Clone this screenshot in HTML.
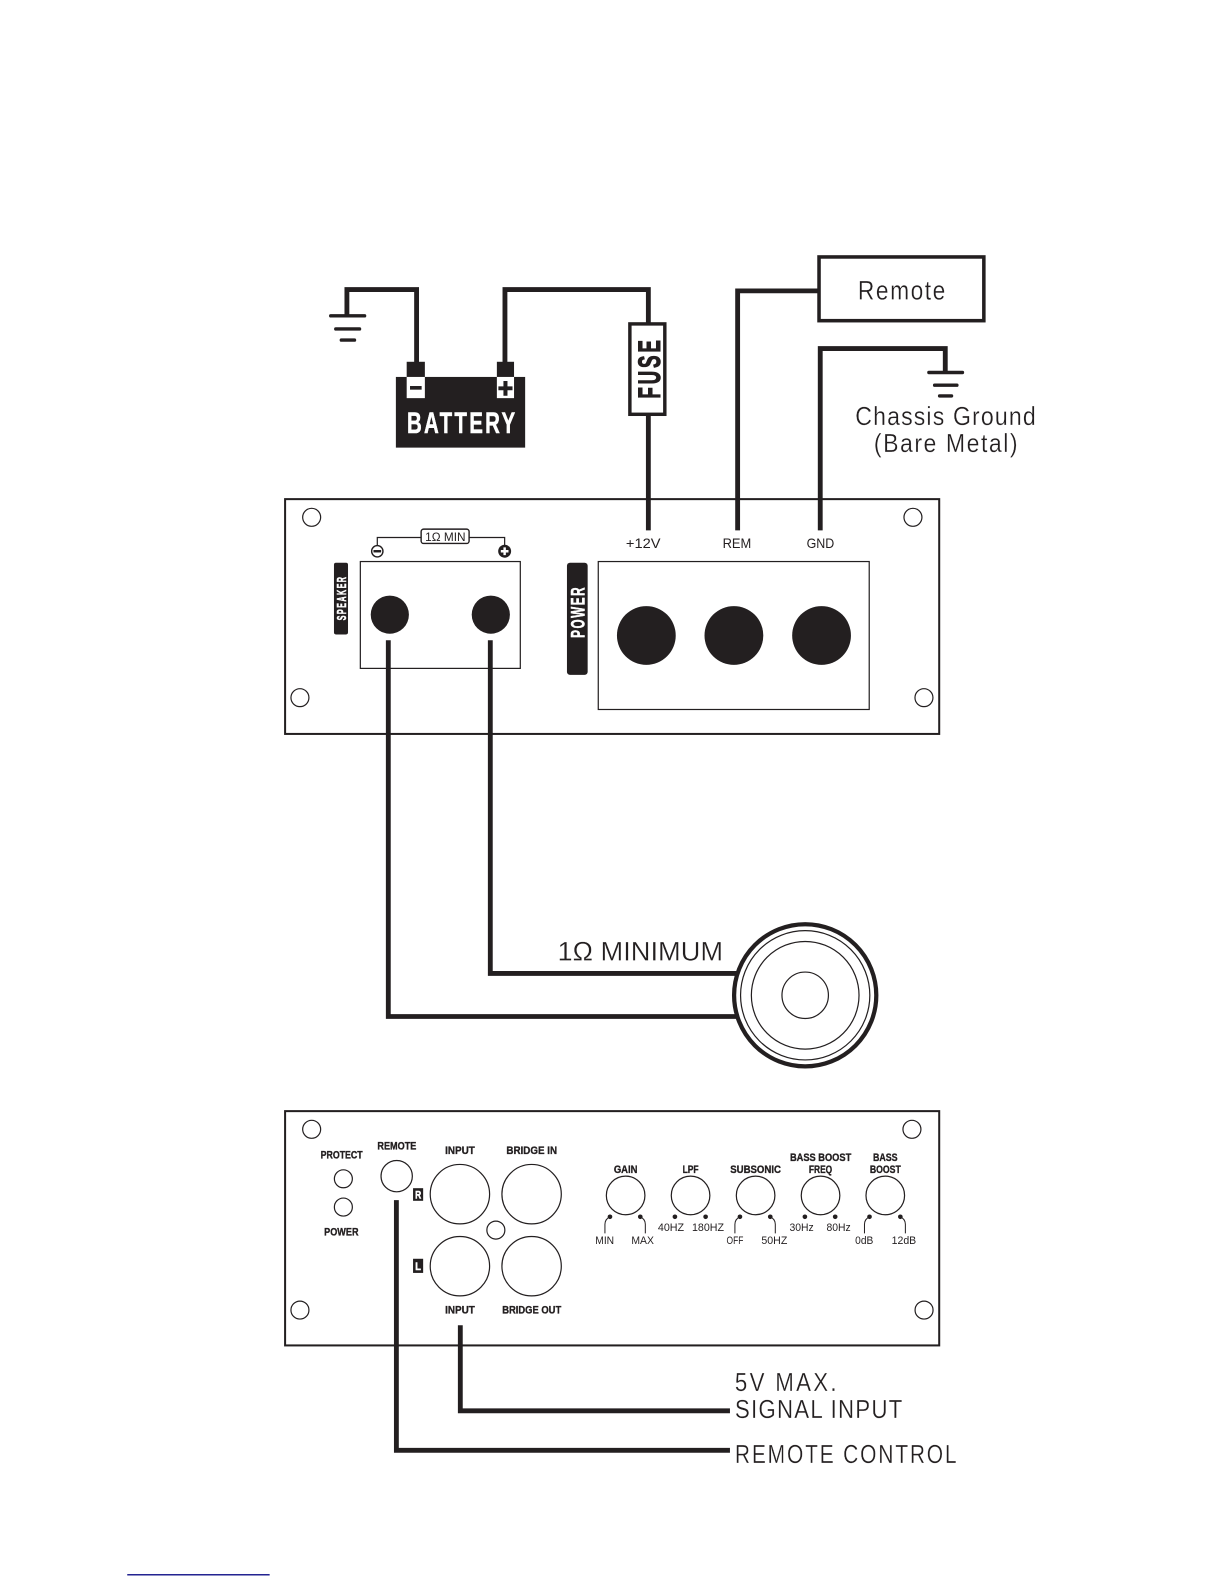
<!DOCTYPE html>
<html><head><meta charset="utf-8"><style>
html,body{margin:0;padding:0;background:#fff}
svg{display:block}
text{font-family:"Liberation Sans",sans-serif;fill:#231f20}
.b{font-weight:bold;stroke:#231f20;stroke-width:.35}
.w{fill:#fff;font-weight:bold;stroke:#fff;stroke-width:.5}
.l{stroke:#fff;stroke-width:.25}
.wire{fill:none;stroke:#231f20;stroke-width:4.8;stroke-linejoin:miter}
.thin{fill:none;stroke:#231f20;stroke-width:1.2}
.bar{stroke:#231f20;stroke-width:3.4;stroke-linecap:round;fill:none}
.fill{fill:#231f20}
</style></head><body>
<svg xmlns="http://www.w3.org/2000/svg" width="1224" height="1584" viewBox="0 0 1212 1568">
<rect x="0" y="0" width="1212" height="1568" fill="#fff"/>

<!-- battery section -->
<path class="wire" d="M343.5 312V286.5H412.5V360"/>
<path class="wire" d="M500 360V286.5H642V320"/>
<path class="wire" d="M642 411V525"/>
<path class="bar" d="M327.5 312.5H361M332.5 325.5H356M338 336.5H351"/>
<rect class="fill" x="392" y="373" width="128" height="70"/>
<rect class="fill" x="402.7" y="358" width="18" height="16"/>
<rect class="fill" x="492" y="358" width="17" height="16"/>
<rect x="402.7" y="373" width="18" height="21" fill="#fff"/>
<rect x="492" y="373" width="17" height="21" fill="#fff"/>
<rect class="fill" x="406" y="382" width="11.5" height="3.6"/>
<path class="fill" d="M498.5 377h4v5.4h5v3.8h-5v5.4h-4v-5.4h-5v-3.8h5z"/>
<text class="w" transform="translate(403 428.4) scale(.7 1)" font-size="29" textLength="153" lengthAdjust="spacing">BATTERY</text>

<rect x="623.7" y="320.5" width="34.6" height="89.5" fill="#fff" stroke="#231f20" stroke-width="3.4"/>
<text class="b" transform="translate(653.5 394.5) rotate(-90) scale(.6 1)" font-size="31" textLength="96.7" lengthAdjust="spacing" style="stroke-width:1">FUSE</text>

<!-- remote / ground -->
<path class="wire" d="M730.4 525V287.8H811"/>
<rect x="811" y="254.2" width="163.2" height="63.1" fill="#fff" stroke="#231f20" stroke-width="3.5"/>
<text class="l" transform="translate(849.5 296.4) scale(.85 1)" font-size="26.5" textLength="101.8" lengthAdjust="spacing">Remote</text>
<path class="wire" d="M812.2 525V344.9H936V368"/>
<path class="bar" d="M919.8 368.6H953M925.5 381.2H947.5M930.4 391.8H942.2"/>
<text class="l" transform="translate(846.9 420.8) scale(.88 1)" font-size="26" textLength="203" lengthAdjust="spacing">Chassis Ground</text>
<text class="l" transform="translate(865.3 447.2) scale(.88 1)" font-size="26" textLength="161.7" lengthAdjust="spacing">(Bare Metal)</text>

<!-- power amp panel -->
<rect x="282.3" y="494" width="647.7" height="232.5" fill="none" stroke="#231f20" stroke-width="2"/>
<circle class="thin" cx="308.6" cy="512" r="8.9"/>
<circle class="thin" cx="904" cy="512" r="8.9"/>
<circle class="thin" cx="297" cy="690.6" r="8.9"/>
<circle class="thin" cx="914.9" cy="690.6" r="8.9"/>

<rect class="thin" x="356.8" y="555.8" width="158.4" height="105.8"/>
<circle class="fill" cx="386" cy="608.4" r="18.9"/>
<circle class="fill" cx="486" cy="608.4" r="18.9"/>
<rect class="fill" x="330.7" y="557" width="13.9" height="71" rx="2"/>
<text class="w" transform="translate(342.4 614) rotate(-90) scale(.55 1)" font-size="13" textLength="78" lengthAdjust="spacing">SPEAKER</text>
<rect class="fill" x="561.4" y="557" width="20.5" height="111" rx="3"/>
<text class="w" transform="translate(578.9 631.4) rotate(-90) scale(.62 1)" font-size="18.8" textLength="80.6" lengthAdjust="spacing">POWER</text>

<path class="thin" d="M373.6 541V532H416.5M464.7 532H499.7V541"/>
<rect x="417" y="523.7" width="47.5" height="14.2" rx="2.5" fill="#fff" stroke="#231f20" stroke-width="1.4"/>
<text x="421" y="535.3" font-size="11.5" textLength="40" lengthAdjust="spacingAndGlyphs">1Ω MIN</text>
<circle cx="373.6" cy="545.6" r="5.6" fill="#fff" stroke="#231f20" stroke-width="1.4"/>
<rect class="fill" x="369.8" y="544.4" width="7.6" height="2.4"/>
<circle class="fill" cx="499.7" cy="545.6" r="6.4"/>
<path d="M498.5 541.8h2.4v2.6h2.6v2.4h-2.6v2.6h-2.4v-2.6h-2.6v-2.4h2.6z" fill="#fff"/>

<text x="619.8" y="542.6" font-size="13.5" textLength="34.3" lengthAdjust="spacingAndGlyphs">+12V</text>
<text x="715.5" y="542.6" font-size="13.5" textLength="28.4" lengthAdjust="spacingAndGlyphs">REM</text>
<text x="798.7" y="542.6" font-size="13.5" textLength="27.4" lengthAdjust="spacingAndGlyphs">GND</text>
<rect class="thin" x="592.4" y="555.8" width="268.3" height="146.5"/>
<circle class="fill" cx="640" cy="629" r="29.1"/>
<circle class="fill" cx="726.7" cy="629" r="29.1"/>
<circle class="fill" cx="813.5" cy="629" r="29.1"/>

<!-- speaker -->
<path class="wire" d="M384.5 633.7V1006.3H735"/>
<path class="wire" d="M485.5 633.7V963.7H735"/>
<text class="l" x="552" y="951" font-size="26.5" textLength="164" lengthAdjust="spacingAndGlyphs">1Ω MINIMUM</text>
<circle cx="797.3" cy="985.3" r="70.4" fill="#fff" stroke="#231f20" stroke-width="4.2"/>
<circle class="thin" cx="797.3" cy="985.3" r="64"/>
<circle class="thin" cx="797.3" cy="985.3" r="53.3"/>
<circle class="thin" cx="797.3" cy="985.3" r="23"/>

<!-- control panel -->
<rect x="282.3" y="1100" width="647.7" height="232" fill="none" stroke="#231f20" stroke-width="2"/>
<circle class="thin" cx="308.6" cy="1118" r="8.9"/>
<circle class="thin" cx="903" cy="1118" r="8.9"/>
<circle class="thin" cx="297" cy="1297" r="8.9"/>
<circle class="thin" cx="915" cy="1297" r="8.9"/>

<text class="b" x="317.5" y="1147" font-size="11" textLength="41.6" lengthAdjust="spacingAndGlyphs">PROTECT</text>
<text class="b" x="321" y="1223" font-size="11" textLength="34" lengthAdjust="spacingAndGlyphs">POWER</text>
<text class="b" x="373.7" y="1138" font-size="11" textLength="38.6" lengthAdjust="spacingAndGlyphs">REMOTE</text>
<text class="b" x="440.8" y="1142.3" font-size="11" textLength="29.4" lengthAdjust="spacingAndGlyphs">INPUT</text>
<text class="b" x="501.4" y="1142.3" font-size="11" textLength="50.2" lengthAdjust="spacingAndGlyphs">BRIDGE IN</text>
<text class="b" x="440.8" y="1300.4" font-size="11" textLength="29.4" lengthAdjust="spacingAndGlyphs">INPUT</text>
<text class="b" x="497.3" y="1300.4" font-size="11" textLength="58.4" lengthAdjust="spacingAndGlyphs">BRIDGE OUT</text>
<text class="b" x="607.8" y="1161.2" font-size="11" textLength="23.4" lengthAdjust="spacingAndGlyphs">GAIN</text>
<text class="b" x="675.9" y="1161.2" font-size="11" textLength="15.8" lengthAdjust="spacingAndGlyphs">LPF</text>
<text class="b" x="723.1" y="1161.2" font-size="11" textLength="50.2" lengthAdjust="spacingAndGlyphs">SUBSONIC</text>
<text class="b" x="782.2" y="1149.6" font-size="11" textLength="60.7" lengthAdjust="spacingAndGlyphs">BASS BOOST</text>
<text class="b" x="801" y="1161.2" font-size="11" textLength="23" lengthAdjust="spacingAndGlyphs">FREQ</text>
<text class="b" x="864.4" y="1149.6" font-size="11" textLength="24.4" lengthAdjust="spacingAndGlyphs">BASS</text>
<text class="b" x="861.3" y="1161.2" font-size="11" textLength="30.7" lengthAdjust="spacingAndGlyphs">BOOST</text>

<circle class="thin" cx="340" cy="1167" r="8.9"/>
<circle class="thin" cx="340" cy="1195" r="8.9"/>
<circle class="thin" cx="392.8" cy="1164.4" r="15.5"/>
<rect class="fill" x="409" y="1176.3" width="10" height="12.5"/>
<rect class="fill" x="409" y="1246.2" width="10" height="14"/>
<text class="w" x="411" y="1186.5" font-size="10.5" textLength="6" lengthAdjust="spacingAndGlyphs">R</text>
<text class="w" x="411.2" y="1257.5" font-size="10.5" textLength="5.6" lengthAdjust="spacingAndGlyphs">L</text>
<circle class="thin" cx="455.4" cy="1182.2" r="29.4"/>
<circle class="thin" cx="526.4" cy="1182.2" r="29.4"/>
<circle class="thin" cx="455.4" cy="1253.5" r="29.4"/>
<circle class="thin" cx="526.4" cy="1253.5" r="29.4"/>
<circle class="thin" cx="491" cy="1217.8" r="8.9"/>

<circle class="thin" cx="619.5" cy="1183.5" r="19.1"/>
<circle class="thin" cx="683.8" cy="1183.5" r="19.1"/>
<circle class="thin" cx="748.2" cy="1183.5" r="19.1"/>
<circle class="thin" cx="812.5" cy="1183.5" r="19.1"/>
<circle class="thin" cx="876.6" cy="1183.5" r="19.1"/>

<g class="fill">
<circle cx="604" cy="1204.6" r="2.3"/><circle cx="634" cy="1204.6" r="2.3"/>
<circle cx="668.3" cy="1204.6" r="2.3"/><circle cx="698.7" cy="1204.6" r="2.3"/>
<circle cx="732.7" cy="1204.6" r="2.3"/><circle cx="762.7" cy="1204.6" r="2.3"/>
<circle cx="797" cy="1204.6" r="2.3"/><circle cx="827" cy="1204.6" r="2.3"/>
<circle cx="861" cy="1204.6" r="2.3"/><circle cx="891.5" cy="1204.6" r="2.3"/>
</g>
<g fill="none" stroke="#231f20" stroke-width="1">
<path d="M604 1204.6Q599 1207 599 1212V1221"/><path d="M634 1204.6Q639 1207 639 1212V1221"/>
<path d="M732.7 1204.6Q727.7 1207 727.7 1212V1221"/><path d="M762.7 1204.6Q767.7 1207 767.7 1212V1221"/>
<path d="M861 1204.6Q856 1207 856 1212V1221"/><path d="M891.5 1204.6Q896.5 1207 896.5 1212V1221"/>
</g>

<text x="589.4" y="1231.7" font-size="11" textLength="18.7" lengthAdjust="spacingAndGlyphs">MIN</text>
<text x="625.2" y="1231.7" font-size="11" textLength="22.3" lengthAdjust="spacingAndGlyphs">MAX</text>
<text x="651.4" y="1218.5" font-size="11" textLength="26" lengthAdjust="spacingAndGlyphs">40HZ</text>
<text x="685.2" y="1218.5" font-size="11" textLength="31.7" lengthAdjust="spacingAndGlyphs">180HZ</text>
<text x="719.4" y="1231.7" font-size="11" textLength="16.7" lengthAdjust="spacingAndGlyphs">OFF</text>
<text x="753.9" y="1231.7" font-size="11" textLength="25.7" lengthAdjust="spacingAndGlyphs">50HZ</text>
<text x="781.7" y="1218.5" font-size="11" textLength="24" lengthAdjust="spacingAndGlyphs">30Hz</text>
<text x="818.4" y="1218.5" font-size="11" textLength="24" lengthAdjust="spacingAndGlyphs">80Hz</text>
<text x="846.8" y="1231.7" font-size="11" textLength="18" lengthAdjust="spacingAndGlyphs">0dB</text>
<text x="882.9" y="1231.7" font-size="11" textLength="24.3" lengthAdjust="spacingAndGlyphs">12dB</text>

<path class="wire" d="M392.5 1188.1V1435.9H722.8"/>
<path class="wire" d="M455.8 1312V1396.7H722.8"/>
<text class="l" transform="translate(727.7 1377.2) scale(.85 1)" font-size="26" textLength="118.5" lengthAdjust="spacing">5V MAX.</text>
<text class="l" transform="translate(727.7 1403.7) scale(.85 1)" font-size="26" textLength="195" lengthAdjust="spacing">SIGNAL INPUT</text>
<text class="l" transform="translate(727.7 1448.2) scale(.8 1)" font-size="26" textLength="274.4" lengthAdjust="spacing">REMOTE CONTROL</text>

<rect x="126" y="1558.4" width="141" height="1.4" fill="#14148a"/>
</svg>
</body></html>
